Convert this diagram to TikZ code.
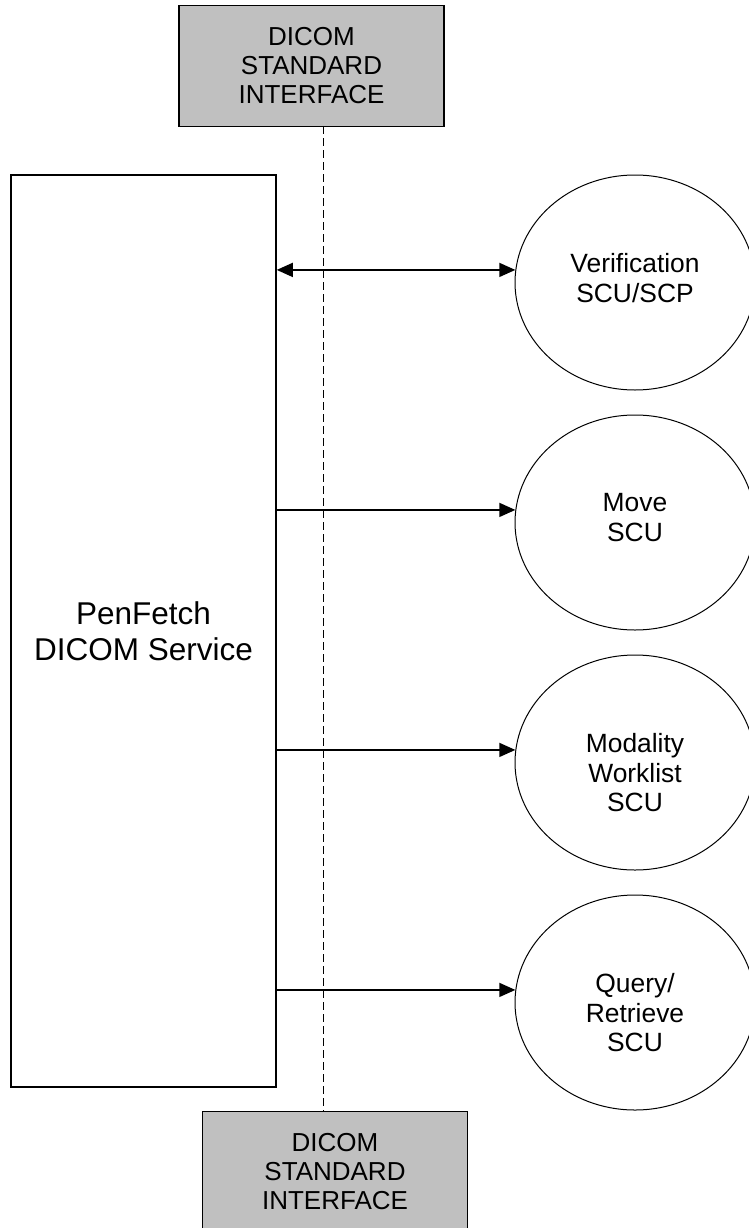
\documentclass[tikz,border=0pt]{standalone}
\usepackage{fontspec}
\setmainfont{Liberation Sans}
\usetikzlibrary{shapes.geometric,arrows.meta}
\definecolor{ifgray}{HTML}{C0C0C0}
\tikzset{
  ifbox/.style={draw, line width=1.3pt, fill=ifgray, minimum width=265pt, minimum height=121pt, inner sep=0pt, align=center, font=\fontsize{26}{29}\selectfont},
  svcbox/.style={draw, line width=1.5pt, minimum width=265pt, minimum height=912pt, inner sep=0pt, align=center, font=\fontsize{31.5}{36}\selectfont},
  svcell/.style={draw, ellipse, line width=1pt, minimum width=240pt, minimum height=215pt, inner sep=0pt},
  eltext/.style={anchor=north, inner sep=0pt, align=center, font=\fontsize{26.4}{29.3}\selectfont},
  conn/.style={line width=1.5pt, -{Triangle[length=16pt,width=14pt]}},
  biconn/.style={line width=1.5pt, {Triangle[length=16pt,width=14pt]}-{Triangle[length=16pt,width=14pt]}},
  ifline/.style={line width=0.8pt, dash pattern=on 8pt off 4pt}
}
\begin{document}
\begin{tikzpicture}[x=1pt,y=-1pt]
\useasboundingbox (0,0) rectangle (748,1228);
\node[ifbox] (top) at (311.5,66) {DICOM\\STANDARD\\INTERFACE};
\node[ifbox] (bot) at (335,1172) {DICOM\\STANDARD\\INTERFACE};
\coordinate (d1) at (323,126);
\coordinate (d2) at (323,1111);
\draw[ifline] (d1) -- (d2);
\node[svcbox] (svc) at (143.5,631) {PenFetch\\DICOM Service};
\node[svcell] (ver) at (635,282.5) {};
\node[svcell] (mov) at (635,522.5) {};
\node[svcell] (mwl) at (635,762.5) {};
\node[svcell] (qr) at (635,1002.5) {};
\node[eltext] (vert) at ([yshift=29pt]ver.center) {Verification\\SCU/SCP};
\node[eltext] (movt) at ([yshift=29pt]mov.center) {Move\\SCU};
\node[eltext] (mwlt) at ([yshift=29pt]mwl.center) {Modality\\Worklist\\SCU};
\node[eltext] (qrt) at ([yshift=29pt]qr.center) {Query/\\Retrieve\\SCU};
\draw[biconn] (svc.east |- ver.174) -- (ver.174);
\draw[conn] (svc.east |- mov.174) -- (mov.174);
\draw[conn] (svc.east |- mwl.174) -- (mwl.174);
\draw[conn] (svc.east |- qr.174) -- (qr.174);
\end{tikzpicture}
\end{document}
